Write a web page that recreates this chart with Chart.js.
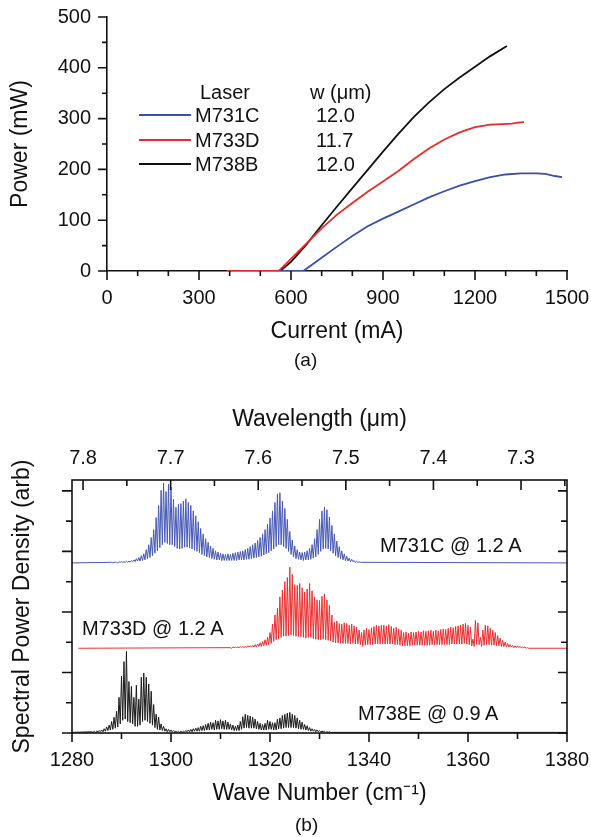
<!DOCTYPE html>
<html>
<head>
<meta charset="utf-8">
<title>QCL power and spectra</title>
<script src="https://cdn.jsdelivr.net/npm/chart.js@4.4.1/dist/chart.umd.min.js"></script>
<style>
  body { margin: 0; background: #fff; font-family: "Liberation Sans", Arial, sans-serif; color: #111; }
  .panel { position: absolute; left: 0; width: 591px; }
  .txt { position: absolute; font-size: 20px; line-height: 20px; white-space: nowrap; }
  .swatch { position: absolute; left: 139px; width: 52px; height: 2px; }
</style>
</head>
<body>
<div class="panel" style="top:0;height:380px"><canvas id="chart-liv"></canvas></div>
<div class="panel" style="top:380px;height:457px"><canvas id="chart-spec"></canvas></div>
<div id="legend"></div>
<div class="txt" style="left:294px;top:350px;font-size:19px">(a)</div>
<div class="txt" style="left:380px;top:535px">M731C @ 1.2 A</div>
<div class="txt" style="left:82px;top:618px">M733D @ 1.2 A</div>
<div class="txt" style="left:358px;top:703px">M738E @ 0.9 A</div>
<div class="txt" style="left:295px;top:815px;font-size:19px">(b)</div>
<script>
// ---- (a) light-current curves ----
const lasers = ["M731C", "M733D", "M738B"];
const ridgeWidths = [12.0, 11.7, 12.0];
const laserColors = ["#3a4fa8", "#e52b2b", "#111111"];

const currBlue = [560, 640, 700, 750, 800, 850, 900, 950, 1000, 1050, 1100, 1150, 1200, 1250, 1300, 1350, 1400, 1430, 1460, 1484];
const powBlue = [0, 0, 26, 48, 69, 88, 103, 117, 131, 145, 157, 168, 177, 185, 190, 192, 192, 191, 187, 185];

const currRed = [390, 560, 600, 650, 700, 750, 800, 850, 900, 950, 1000, 1050, 1100, 1150, 1200, 1250, 1290, 1320, 1340, 1360];
const powRed = [0, 0, 24, 54, 84, 111, 134, 156, 176, 197, 220, 241, 259, 273, 283, 288, 289, 290, 292, 293];

const currBlack = [520, 565, 600, 650, 700, 750, 800, 850, 900, 950, 1000, 1050, 1100, 1150, 1200, 1250, 1304];
const powBlack = [0, 0, 18, 52, 90, 127, 163, 199, 235, 270, 303, 332, 358, 381, 402, 423, 443];

// ---- (b) spectra: one peak and one dip per Fabry-Perot mode ----
const MODE_SPACING = 0.5; // cm-1
const specNames = ["M731C @ 1.2 A", "M733D @ 1.2 A", "M738E @ 0.9 A"];
const specColors = ["#4658b4", "#e8302e", "#1a1a1a"];
const specOffsets = [2.81, 1.40, 0.01];
const specBaseFrom = [1280, 1281.3, 1280];
const specFirstMode = [1288, 1312, 1284];

const bluePeaks = [
  0.01, 0.01, 0.01, 0.02, 0.02, 0.02, 0.03, 0.03, 0.04, 0.05,
  0.07, 0.09, 0.12, 0.15, 0.22, 0.30, 0.42, 0.55, 0.75, 0.95,
  1.20, 1.32, 1.18, 1.30, 1.25, 1.05, 0.92, 0.97, 0.98, 1.02,
  1.06, 1.00, 0.95, 0.86, 0.78, 0.68, 0.57, 0.48, 0.40, 0.34,
  0.28, 0.24, 0.20, 0.18, 0.16, 0.15, 0.14, 0.15, 0.14, 0.16,
  0.17, 0.18, 0.19, 0.20, 0.22, 0.24, 0.27, 0.30, 0.33, 0.37,
  0.42, 0.48, 0.55, 0.64, 0.74, 0.86, 1.00, 1.14, 1.16, 1.02,
  0.90, 0.72, 0.52, 0.38, 0.28, 0.22, 0.18, 0.17, 0.18, 0.20,
  0.24, 0.30, 0.40, 0.55, 0.72, 0.86, 0.92, 0.88, 0.76, 0.62,
  0.48, 0.36, 0.27, 0.20, 0.15, 0.11, 0.08, 0.06, 0.04, 0.03,
  0.02
];
const blueDips = [
  0.00, 0.01, 0.00, 0.01, 0.01, 0.01, 0.01, 0.01, 0.02, 0.02,
  0.03, 0.03, 0.04, 0.05, 0.07, 0.09, 0.12, 0.16, 0.20, 0.25,
  0.30, 0.34, 0.32, 0.30, 0.30, 0.27, 0.24, 0.23, 0.24, 0.26,
  0.26, 0.25, 0.23, 0.21, 0.19, 0.17, 0.14, 0.12, 0.10, 0.09,
  0.07, 0.06, 0.05, 0.05, 0.04, 0.04, 0.04, 0.04, 0.04, 0.04,
  0.04, 0.05, 0.05, 0.05, 0.06, 0.06, 0.07, 0.08, 0.09, 0.10,
  0.11, 0.13, 0.15, 0.17, 0.20, 0.23, 0.27, 0.30, 0.30, 0.27,
  0.24, 0.19, 0.14, 0.10, 0.07, 0.06, 0.05, 0.04, 0.05, 0.05,
  0.06, 0.08, 0.10, 0.14, 0.19, 0.23, 0.24, 0.23, 0.20, 0.16,
  0.12, 0.09, 0.07, 0.05, 0.04, 0.03, 0.02, 0.02, 0.01, 0.01,
  0.01
];

const redPeaks = [
  0.01, 0.02, 0.02, 0.02, 0.03, 0.03, 0.03, 0.04, 0.04, 0.05,
  0.06, 0.07, 0.09, 0.11, 0.14, 0.18, 0.26, 0.40, 0.55, 0.66,
  0.85, 0.96, 1.10, 1.17, 1.34, 1.22, 1.05, 1.04, 1.07, 1.00,
  0.93, 0.98, 1.07, 0.95, 0.85, 0.80, 0.79, 0.86, 0.90, 0.80,
  0.71, 0.55, 0.43, 0.45, 0.41, 0.40, 0.42, 0.41, 0.38, 0.40,
  0.37, 0.35, 0.30, 0.26, 0.30, 0.33, 0.31, 0.34, 0.36, 0.38,
  0.37, 0.38, 0.38, 0.37, 0.39, 0.36, 0.33, 0.35, 0.32, 0.30,
  0.26, 0.27, 0.25, 0.27, 0.26, 0.27, 0.28, 0.27, 0.29, 0.28,
  0.29, 0.30, 0.28, 0.30, 0.29, 0.31, 0.32, 0.31, 0.33, 0.35,
  0.34, 0.36, 0.37, 0.38, 0.40, 0.41, 0.38, 0.35, 0.15, 0.46,
  0.42, 0.18, 0.30, 0.38, 0.37, 0.33, 0.30, 0.26, 0.21, 0.17,
  0.13, 0.10, 0.08, 0.06, 0.05, 0.04, 0.04, 0.03, 0.02, 0.02,
  0.01
];
const redDips = [
  0.00, 0.01, 0.01, 0.01, 0.01, 0.01, 0.01, 0.02, 0.02, 0.02,
  0.02, 0.03, 0.03, 0.04, 0.05, 0.06, 0.08, 0.11, 0.14, 0.16,
  0.18, 0.20, 0.20, 0.21, 0.22, 0.21, 0.20, 0.19, 0.19, 0.18,
  0.17, 0.18, 0.18, 0.16, 0.15, 0.14, 0.14, 0.15, 0.14, 0.13,
  0.12, 0.10, 0.09, 0.09, 0.08, 0.08, 0.08, 0.08, 0.07, 0.08,
  0.07, 0.07, 0.06, 0.03, 0.05, 0.06, 0.06, 0.06, 0.07, 0.07,
  0.07, 0.07, 0.07, 0.07, 0.07, 0.07, 0.06, 0.06, 0.05, 0.04,
  0.04, 0.04, 0.04, 0.05, 0.05, 0.05, 0.05, 0.05, 0.05, 0.05,
  0.05, 0.06, 0.05, 0.06, 0.06, 0.06, 0.06, 0.06, 0.06, 0.07,
  0.07, 0.07, 0.07, 0.07, 0.08, 0.07, 0.06, 0.04, 0.03, 0.06,
  0.06, 0.03, 0.05, 0.06, 0.06, 0.05, 0.05, 0.04, 0.04, 0.03,
  0.03, 0.02, 0.02, 0.02, 0.01, 0.01, 0.01, 0.01, 0.01, 0.00,
  0.00
];

const blackPeaks = [
  0.01, 0.02, 0.02, 0.03, 0.04, 0.06, 0.09, 0.12, 0.18, 0.25,
  0.35, 0.58, 0.93, 1.17, 1.34, 0.84, 0.76, 0.58, 0.78, 0.55,
  0.91, 0.98, 0.91, 0.80, 0.68, 0.46, 0.30, 0.25, 0.14, 0.10,
  0.06, 0.05, 0.04, 0.03, 0.02, 0.02, 0.02, 0.02, 0.03, 0.04,
  0.05, 0.06, 0.07, 0.08, 0.10, 0.11, 0.13, 0.15, 0.17, 0.16,
  0.20, 0.19, 0.21, 0.19, 0.20, 0.17, 0.14, 0.12, 0.10, 0.12,
  0.18, 0.26, 0.30, 0.28, 0.27, 0.25, 0.22, 0.18, 0.15, 0.13,
  0.15, 0.20, 0.18, 0.16, 0.16, 0.22, 0.24, 0.28, 0.30, 0.32,
  0.33, 0.30, 0.28, 0.24, 0.20, 0.17, 0.13, 0.11, 0.08, 0.06,
  0.05, 0.04, 0.03, 0.02, 0.02, 0.01,
  0.01
];
const blackDips = [
  0.00, 0.00, 0.01, 0.01, 0.01, 0.02, 0.03, 0.04, 0.05, 0.07,
  0.09, 0.14, 0.20, 0.22, 0.18, 0.16, 0.14, 0.10, 0.10, 0.12,
  0.18, 0.20, 0.18, 0.15, 0.12, 0.08, 0.05, 0.04, 0.03, 0.02,
  0.01, 0.01, 0.01, 0.01, 0.00, 0.00, 0.00, 0.01, 0.01, 0.01,
  0.01, 0.02, 0.02, 0.02, 0.03, 0.03, 0.04, 0.04, 0.05, 0.04,
  0.05, 0.05, 0.06, 0.05, 0.05, 0.05, 0.04, 0.03, 0.03, 0.03,
  0.05, 0.07, 0.08, 0.07, 0.07, 0.07, 0.06, 0.05, 0.04, 0.04,
  0.04, 0.05, 0.05, 0.04, 0.04, 0.06, 0.06, 0.07, 0.08, 0.08,
  0.08, 0.08, 0.07, 0.06, 0.05, 0.05, 0.04, 0.03, 0.02, 0.02,
  0.01, 0.01, 0.01, 0.01, 0.00, 0.00,
  0.00
];

const FONT = '"Liberation Sans", Arial, sans-serif';
Chart.defaults.font.family = FONT;
Chart.defaults.color = "#111";

function isMultiple(v, step) {
  const r = v / step;
  return Math.abs(r - Math.round(r)) < 1e-6;
}

/**
 * Draws major/minor tick marks from the scale's own ticks, plus an optional frame.
 * edge: which side of the chart area; inward: tick points into the plot.
 */
function tickMarksPlugin(marks, frame) {
  return {
    id: "tickMarks",
    afterDraw(chart) {
      const { ctx, chartArea: a } = chart;
      ctx.save();
      ctx.strokeStyle = "#111";
      ctx.lineWidth = 1.6;
      if (frame) ctx.strokeRect(a.left, a.top, a.right - a.left, a.bottom - a.top);
      for (const m of marks) {
        const scale = chart.scales[m.scale];
        ctx.beginPath();
        for (const t of scale.ticks) {
          const p = scale.getPixelForValue(t.value);
          const len = (isMultiple(t.value, m.major) ? m.long : m.short) * (m.inward ? 1 : -1);
          if (m.edge === "bottom") { ctx.moveTo(p, a.bottom); ctx.lineTo(p, a.bottom - len); }
          else if (m.edge === "top") { ctx.moveTo(p, a.top); ctx.lineTo(p, a.top + len); }
          else if (m.edge === "left") { ctx.moveTo(a.left, p); ctx.lineTo(a.left + len, p); }
          else { ctx.moveTo(a.right, p); ctx.lineTo(a.right - len, p); }
        }
        ctx.stroke();
      }
      ctx.restore();
    },
  };
}

// hidden grid, but a tick length that sets the label offset (ticks.padding would
// also widen the axis side padding and squeeze the plot area)
const labelGap = (len) => ({ display: false, drawTicks: true, tickLength: len });

function toPoints(xs, ys) {
  return xs.map((x, i) => ({ x, y: ys[i] }));
}

function spectrumPoints(k) {
  const peaks = [bluePeaks, redPeaks, blackPeaks][k];
  const dips = [blueDips, redDips, blackDips][k];
  const off = specOffsets[k];
  const pts = [{ x: specBaseFrom[k], y: off }];
  peaks.forEach((p, i) => {
    const nu = specFirstMode[k] + i * MODE_SPACING;
    pts.push({ x: nu, y: off + p });
    pts.push({ x: nu + MODE_SPACING / 2, y: off + dips[i] });
  });
  pts.push({ x: 1380, y: off });
  return pts;
}

// legend for (a): laser name column and ridge width column
const legend = document.getElementById("legend");
legend.innerHTML =
  '<div class="txt" style="left:200px;top:82px">Laser</div>' +
  '<div class="txt" style="left:310px;top:82px">w (\u03bcm)</div>' +
  lasers.map((name, i) => {
    const top = 105 + i * 24.5;
    return `<div class="swatch" style="top:${top + 9}px;background:${laserColors[i]}"></div>` +
      `<div class="txt" style="left:195px;top:${top}px">${name}</div>` +
      `<div class="txt" style="left:316px;top:${top}px">${ridgeWidths[i].toFixed(1)}</div>`;
  }).join("");

// (a) output power vs current
new Chart(document.getElementById("chart-liv"), {
  type: "line",
  data: {
    datasets: [
      { data: toPoints(currBlue, powBlue), borderColor: laserColors[0] },
      { data: toPoints(currRed, powRed), borderColor: laserColors[1] },
      { data: toPoints(currBlack, powBlack), borderColor: laserColors[2] },
    ].map((d) => ({ ...d, borderWidth: 1.8, pointRadius: 0, tension: 0, fill: false })),
  },
  options: {
    responsive: true,
    maintainAspectRatio: false,
    animation: false,
    events: [],
    devicePixelRatio: 1,
    layout: { padding: { top: 17, right: 24, bottom: 0, left: 0 } },
    plugins: { legend: { display: false }, tooltip: { enabled: false } },
    scales: {
      x: {
        type: "linear",
        min: 0,
        max: 1500,
        grid: labelGap(15),
        border: { display: true, color: "#111", width: 1.6 },
        ticks: {
          stepSize: 100, autoSkip: false, maxRotation: 0, minRotation: 0, padding: 0,
          font: { size: 20 }, callback: (v) => (v % 300 === 0 ? v : ""),
        },
        title: { display: true, text: "Current (mA)", font: { size: 23 }, padding: { top: 0, bottom: 35 } },
        afterFit: (s) => { s.height = 109; },
      },
      y: {
        min: 0,
        max: 500,
        grid: labelGap(16),
        border: { display: true, color: "#111", width: 1.6 },
        ticks: {
          stepSize: 50, autoSkip: false, padding: 0,
          font: { size: 20 }, callback: (v) => (v % 100 === 0 ? v : ""),
        },
        title: { display: true, text: "Power (mW)", font: { size: 23 }, padding: { top: 7, bottom: 0 } },
        afterFit: (s) => { s.width = 107; },
      },
    },
  },
  plugins: [tickMarksPlugin([
    { scale: "x", edge: "bottom", major: 300, long: 9, short: 5, inward: false },
    { scale: "y", edge: "left", major: 100, long: 9, short: 5, inward: false },
  ], false)],
});

// (b) emission spectra, stacked with vertical offsets
new Chart(document.getElementById("chart-spec"), {
  type: "line",
  data: {
    datasets: specNames.map((name, k) => ({
      label: name,
      data: spectrumPoints(k),
      borderColor: specColors[k],
      borderWidth: 1,
      pointRadius: 0,
      tension: 0,
      fill: false,
    })),
  },
  options: {
    responsive: true,
    maintainAspectRatio: false,
    animation: false,
    events: [],
    devicePixelRatio: 1,
    layout: { padding: { top: 10, right: 24, bottom: 24, left: 0 } },
    plugins: { legend: { display: false }, tooltip: { enabled: false } },
    scales: {
      x: {
        type: "linear",
        position: "bottom",
        min: 1280,
        max: 1380,
        grid: labelGap(15),
        border: { display: false },
        ticks: {
          stepSize: 10, autoSkip: false, maxRotation: 0, minRotation: 0, padding: 0,
          font: { size: 20 }, callback: (v) => (v % 20 === 0 ? v : ""),
        },
        title: { display: true, text: "Wave Number (cm\u207b\u00b9)", font: { size: 23 }, padding: { top: 0, bottom: 6 } },
        afterFit: (s) => { s.height = 80; },
      },
      x2: {
        type: "linear",
        position: "top",
        reverse: true,
        min: 7.2475,
        max: 7.8126,
        grid: labelGap(10),
        border: { display: false },
        ticks: {
          stepSize: 0.05, includeBounds: false, autoSkip: false, maxRotation: 0, minRotation: 0, padding: 0,
          font: { size: 20 }, callback: (v) => (isMultiple(v, 0.1) ? v.toFixed(1) : ""),
        },
        title: { display: true, text: "Wavelength (\u03bcm)", font: { size: 23 }, padding: { top: 16, bottom: 0 } },
        afterFit: (s) => { s.height = 90; },
      },
      y: {
        min: 0,
        max: 4.18,
        grid: { display: false, drawTicks: false },
        border: { display: false },
        ticks: { stepSize: 0.5, includeBounds: false, display: false, padding: 0 },
        title: { display: true, text: "Spectral Power Density (arb)", font: { size: 23 }, padding: { top: 9, bottom: 0 } },
        afterFit: (s) => { s.width = 72; },
      },
    },
  },
  plugins: [tickMarksPlugin([
    { scale: "x", edge: "bottom", major: 20, long: 9, short: 6, inward: false },
    { scale: "x2", edge: "top", major: 0.1, long: 10, short: 6, inward: true },
    { scale: "y", edge: "left", major: 1, long: 10, short: 6, inward: false },
    { scale: "y", edge: "right", major: 1, long: 9, short: 6, inward: true },
  ], true)],
});
</script>
</body>
</html>
